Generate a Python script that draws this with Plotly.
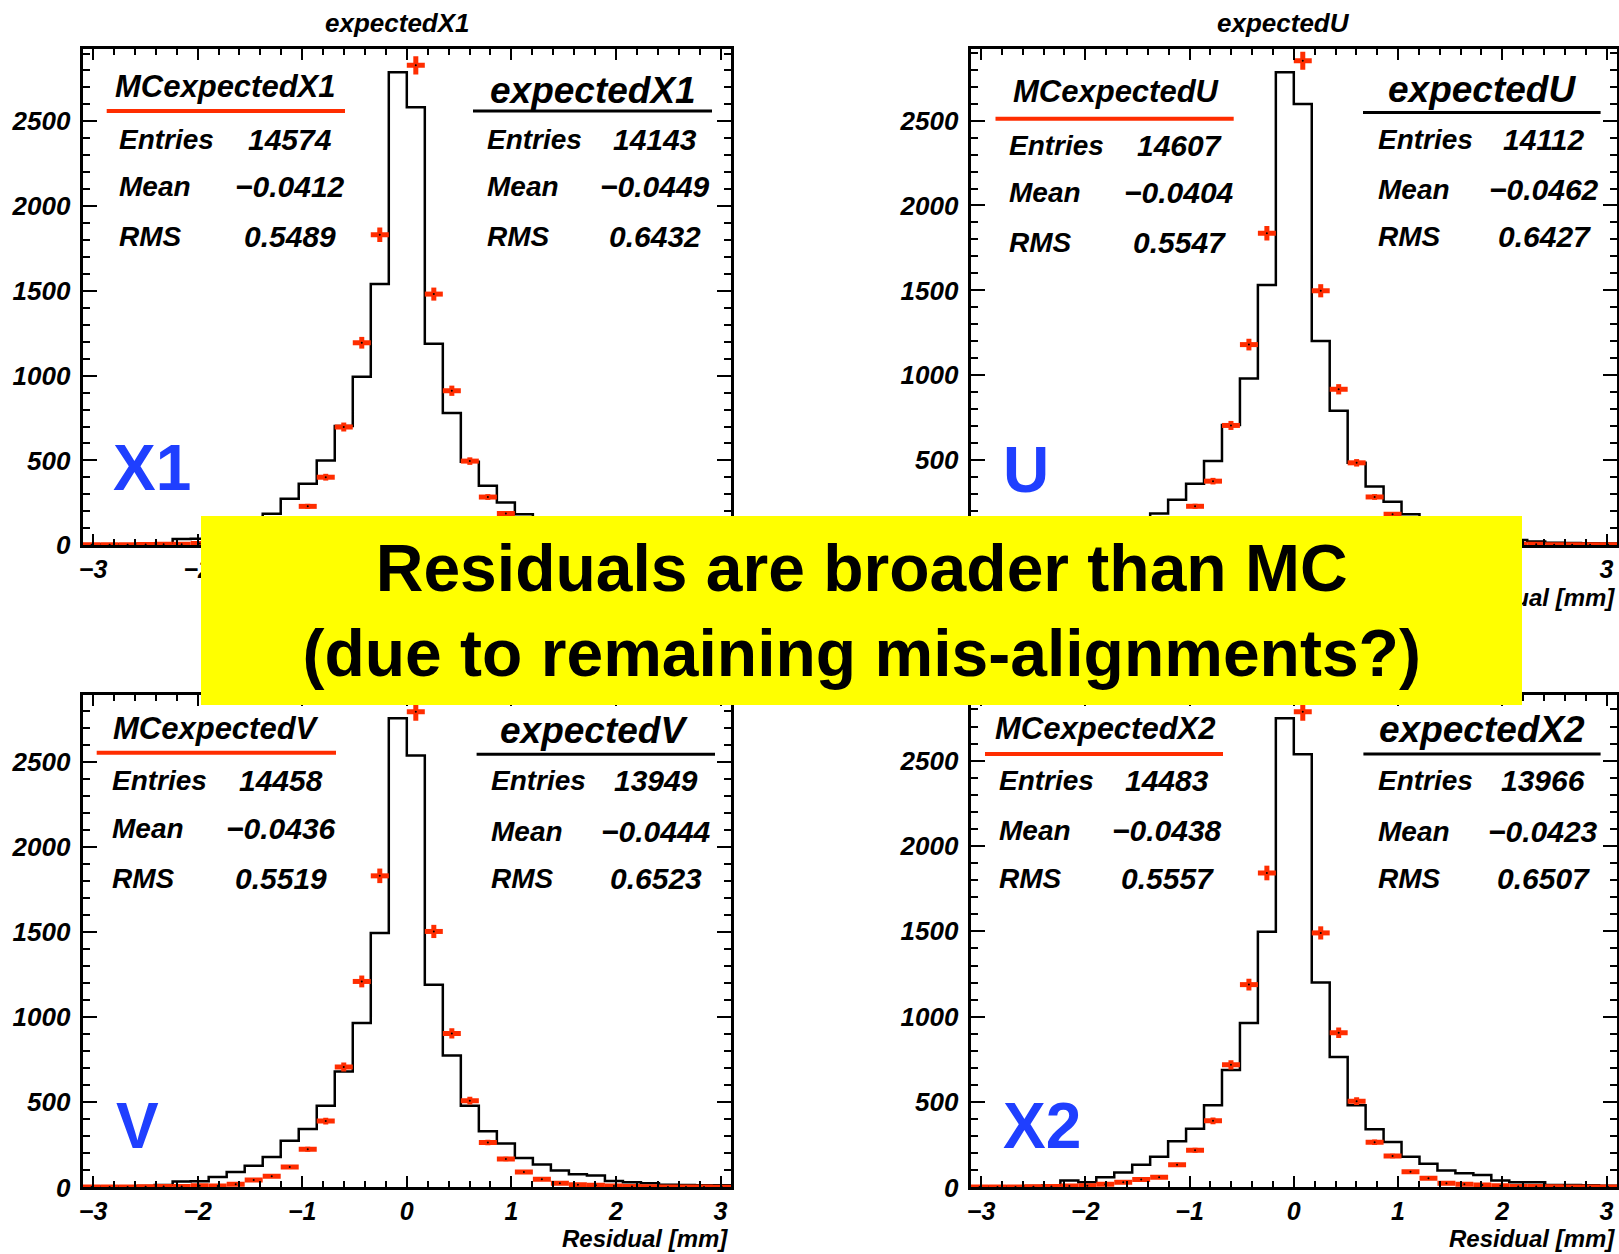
import numpy as np
import plotly.graph_objects as go

W, H = 1619, 1254
FONT = "Liberation Sans"
RED = "#ff2d00"
BLUE = "#1f3fff"

# 36 equal-width residual bins
n_bins = 36
x_min, x_max = -3.1, 3.1

# Bin contents: measured residuals (black step histograms)
data_x1 = [4, 6, 5, 9, 12, 36, 38, 62, 92, 132, 185, 274, 363, 500, 703, 994, 1540, 2790,
           2583, 1188, 779, 492, 351, 252, 183, 136, 100, 80, 70, 40, 30, 24, 16, 14, 12, 11]
data_u = [5, 5, 6, 8, 13, 34, 37, 60, 90, 128, 186, 267, 362, 495, 707, 982, 1532, 2785,
          2598, 1202, 791, 485, 345, 256, 182, 135, 100, 78, 70, 40, 30, 22, 15, 13, 12, 10]
data_v = [5, 5, 6, 8, 14, 35, 36, 61, 90, 127, 179, 274, 343, 480, 682, 967, 1496, 2758,
          2539, 1192, 776, 480, 330, 258, 173, 135, 99, 78, 70, 38, 30, 25, 16, 14, 13, 12]
data_x2 = [4, 5, 6, 8, 12, 41, 30, 60, 87, 133, 179, 271, 344, 482, 688, 963, 1498, 2748,
           2537, 1200, 764, 482, 340, 266, 179, 138, 99, 83, 73, 41, 30, 30, 14, 14, 12, 10]

# Bin contents: simulated residuals (red points)
mc_x1 = [2, 3, 3, 4, 5, 6, 10, 9, 19, 42, 65, 122, 229, 401, 697, 1194, 1831, 3500,
         2830, 1481, 911, 496, 284, 187, 92, 48, 26, 16, 12, 8, 6, 4, 3, 3, 2, 1]
mc_u = [2, 3, 3, 4, 5, 6, 9, 9, 18, 42, 64, 120, 229, 377, 705, 1181, 1837, 3520,
        2852, 1498, 918, 485, 284, 182, 91, 48, 25, 16, 12, 8, 6, 5, 3, 3, 2, 2]
mc_v = [2, 3, 3, 4, 5, 6, 10, 8, 18, 43, 66, 120, 224, 390, 708, 1211, 1832, 3430,
        2797, 1505, 905, 510, 264, 167, 90, 48, 25, 16, 12, 8, 6, 4, 3, 3, 2, 1]
mc_x2 = [2, 3, 3, 4, 6, 8, 10, 18, 30, 46, 60, 133, 218, 390, 718, 1188, 1842, 3430,
         2787, 1491, 906, 505, 264, 184, 92, 53, 25, 18, 14, 9, 6, 5, 4, 3, 2, 2]

planes = ["X1", "U", "V", "X2"]
data_names = ["expectedX1", "expectedU", "expectedV", "expectedX2"]
mc_names = ["MCexpectedX1", "MCexpectedU", "MCexpectedV", "MCexpectedX2"]

# Statistics boxes
data_entries = [14143, 14112, 13949, 13966]
data_mean = [-0.0449, -0.0462, -0.0444, -0.0423]
data_rms = [0.6432, 0.6427, 0.6523, 0.6507]
mc_entries = [14574, 14607, 14458, 14483]
mc_mean = [-0.0412, -0.0404, -0.0436, -0.0438]
mc_rms = [0.5489, 0.5547, 0.5519, 0.5557]

x_label = "Residual [mm]"
note_lines = ["Residuals are broader than MC", "(due to remaining mis-alignments?)"]

data_sets = [data_x1, data_u, data_v, data_x2]
mc_sets = [mc_x1, mc_u, mc_v, mc_x2]

# ---------------------------------------------------------------- geometry (pixels)
frames = [
    (82.6, 731.0, 48.5, 545.2),
    (970.6, 1617.0, 48.5, 545.2),
    (82.6, 731.0, 694.9, 1187.4),
    (970.6, 1617.0, 694.9, 1187.4),
]
stat_layout = [
    dict(mt=(225, 86.5), ml=(106.7, 345, 111), mlx=118, mvx=290, mrows=(139, 186.7, 236.7),
         dt=(592.5, 90.7), dl=(473, 712, 111), dlx=486, dvx=655, drows=(139, 186.7, 236.7)),
    dict(mt=(1116, 92), ml=(995.5, 1233.7, 118.8), mlx=1007.6, mvx=1179, mrows=(145.5, 192.6, 242.5),
         dt=(1482, 89), dl=(1363, 1600.6, 112.4), dlx=1377, dvx=1544, drows=(139.8, 189, 236)),
    dict(mt=(216, 728), ml=(96.7, 336, 752.7), mlx=111, mvx=281, mrows=(780.6, 828.5, 878),
         dt=(593.5, 730.8), dl=(476.6, 715, 754.3), dlx=490, dvx=656, drows=(780.6, 831, 878.8)),
    dict(mt=(1105, 728), ml=(985, 1223, 754), mlx=998, mvx=1167, mrows=(780.6, 830, 878.8),
         dt=(1481.5, 729.6), dl=(1363.4, 1600.6, 754), dlx=1377, dvx=1543, drows=(780.6, 831, 878.8)),
]
plane_label_pos = [(152, 468), (1026, 470), (137, 1126), (1042, 1125.5)]
pad_title_pos = [(397.5, 22.7), (1283.4, 22.7), (397.5, 669), (1283.4, 669)]
xlabel_pos = [(729, 597), (1616, 597), (729, 1238), (1616, 1238)]


def fx(px):
    return px / W


def fy(py):
    return 1 - py / H


def fmt(v):
    return f"{v:.4f}".replace("-", "\u2212")


annotations = []
shapes = []


def add_text(x, y, s, size, xanchor="center", color="black", italic=True, bold=True):
    annotations.append(dict(
        x=fx(x), y=fy(y), xref="paper", yref="paper", text=s, showarrow=False,
        xanchor=xanchor, yanchor="middle", borderpad=0,
        font=dict(family=FONT, size=size, color=color,
                  weight="bold" if bold else "normal",
                  style="italic" if italic else "normal"),
    ))


edges = np.linspace(x_min, x_max, n_bins + 1)
centers = 0.5 * (edges[:-1] + edges[1:])
half_width = 0.5 * (edges[1] - edges[0])

fig = go.Figure()
layout_axes = {}

for i, plane in enumerate(planes):
    sfx = "" if i == 0 else str(i + 1)
    xa, ya = "x" + sfx, "y" + sfx
    counts = np.array(data_sets[i], dtype=float)
    mc = np.array(mc_sets[i], dtype=float)

    # measured distribution as a step outline
    fig.add_trace(go.Scatter(
        x=np.append(edges[:-1], edges[-1]), y=np.append(counts, counts[-1]),
        mode="lines", line=dict(shape="hv", color="black", width=2.5),
        xaxis=xa, yaxis=ya, showlegend=False, hoverinfo="skip",
    ))
    # simulation as points with bin-width and Poisson error bars
    fig.add_trace(go.Scatter(
        x=centers, y=mc, mode="markers",
        marker=dict(color="black", size=2),
        error_x=dict(type="constant", value=half_width, thickness=5, width=0, color=RED),
        error_y=dict(type="data", array=np.sqrt(mc), thickness=5, width=0, color=RED),
        xaxis=xa, yaxis=ya, showlegend=False, hoverinfo="skip",
    ))

    x0, x1, y0, y1 = frames[i]
    tick_font = dict(family=FONT, color="black", weight="bold", style="italic")
    layout_axes["xaxis" + sfx] = dict(
        domain=[fx(x0), fx(x1)], anchor=ya, range=[x_min, x_max], automargin=False,
        tickmode="linear", tick0=0, dtick=1, ticks="inside", ticklen=11, tickwidth=2,
        tickcolor="black", showline=True, linewidth=3, linecolor="black", mirror="ticks",
        showgrid=False, zeroline=False, tickfont=dict(size=25, **tick_font),
        ticklabelstandoff=0,
        minor=dict(tick0=0, dtick=0.2, ticks="inside", ticklen=6, tickwidth=2,
                   tickcolor="black", showgrid=False),
    )
    layout_axes["yaxis" + sfx] = dict(
        domain=[fy(y1), fy(y0)], anchor=xa, range=[0, 1.05 * counts.max()], automargin=False,
        tickmode="linear", tick0=0, dtick=500, ticks="inside", ticklen=14, tickwidth=2,
        tickcolor="black", showline=True, linewidth=3, linecolor="black", mirror="ticks",
        showgrid=False, zeroline=False, tickfont=dict(size=26, **tick_font),
        ticklabelstandoff=4,
        minor=dict(tick0=0, dtick=100, ticks="inside", ticklen=7, tickwidth=2,
                   tickcolor="black", showgrid=False),
    )

    # pad title and x-axis label
    add_text(*pad_title_pos[i], data_names[i], 26)
    lx, ly = xlabel_pos[i]
    add_text(lx, ly, x_label, 24, xanchor="right")

    # statistics boxes
    sl = stat_layout[i]
    add_text(*sl["mt"], mc_names[i], 31)
    shapes.append(dict(type="line", xref="paper", yref="paper",
                       x0=fx(sl["ml"][0]), x1=fx(sl["ml"][1]), y0=fy(sl["ml"][2]), y1=fy(sl["ml"][2]),
                       line=dict(color=RED, width=4)))
    add_text(*sl["dt"], data_names[i], 37)
    shapes.append(dict(type="line", xref="paper", yref="paper",
                       x0=fx(sl["dl"][0]), x1=fx(sl["dl"][1]), y0=fy(sl["dl"][2]), y1=fy(sl["dl"][2]),
                       line=dict(color="black", width=3)))
    mc_vals = [str(mc_entries[i]), fmt(mc_mean[i]), fmt(mc_rms[i])]
    d_vals = [str(data_entries[i]), fmt(data_mean[i]), fmt(data_rms[i])]
    for row, name in enumerate(["Entries", "Mean", "RMS"]):
        add_text(sl["mlx"], sl["mrows"][row], name, 28, xanchor="left")
        add_text(sl["mvx"], sl["mrows"][row], mc_vals[row], 30)
        add_text(sl["dlx"], sl["drows"][row], name, 28, xanchor="left")
        add_text(sl["dvx"], sl["drows"][row], d_vals[row], 30)

    # plane label
    add_text(*plane_label_pos[i], plane, 64, color=BLUE, italic=False)

# highlighted conclusion box drawn over everything
box_x0, box_x1, box_y0, box_y1 = 200.6, 1522.0, 515.5, 704.5
annotations.append(dict(
    x=fx((box_x0 + box_x1) / 2), y=fy((box_y0 + box_y1) / 2), xref="paper", yref="paper",
    xanchor="center", yanchor="middle", showarrow=False,
    width=box_x1 - box_x0, height=box_y1 - box_y0, borderpad=0, borderwidth=0,
    bgcolor="#ffff00", align="center", valign="middle",
    text="<br>".join(note_lines),
    font=dict(family=FONT, size=66, color="black", weight="bold"),
))

fig.update_layout(
    width=W, height=H, autosize=False,
    margin=dict(l=0, r=0, t=0, b=0, pad=0),
    paper_bgcolor="white", plot_bgcolor="white",
    annotations=annotations, shapes=shapes,
    **layout_axes,
)

fig.write_html("out.html")
